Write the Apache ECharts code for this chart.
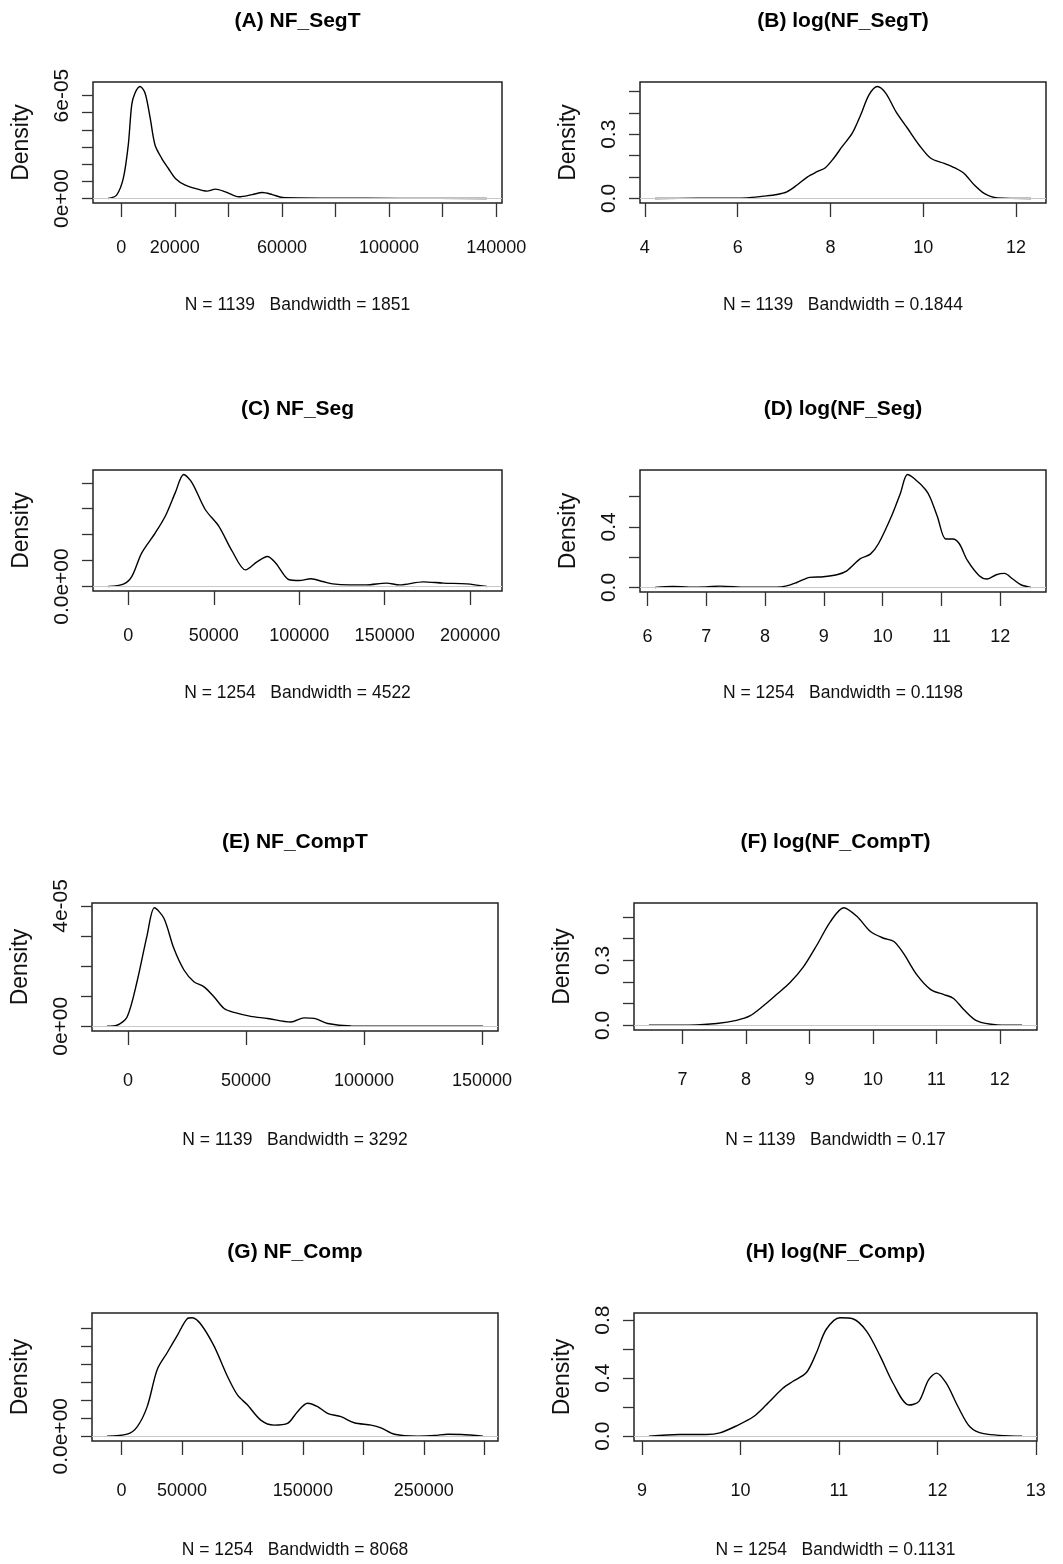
<!DOCTYPE html>
<html>
<head>
<meta charset="utf-8">
<script src="https://cdn.jsdelivr.net/npm/echarts@6/dist/echarts.min.js"></script>
<style>
  html, body { margin: 0; padding: 0; background: #fff; }
  #chart { width: 1063px; height: 1564px; }
</style>
</head>
<body>
<div id="chart"></div>
<script>
// density curves
// (A), (C), (E), (G): y in units of 1e-05
const xA = [-4900, -1750, 750, 2600, 3900, 5100, 7000, 8900, 10800, 12600, 15100, 17600, 20200, 23900, 28900, 32000, 35200, 38900, 43900, 48900, 52700, 56400, 60200, 78900, 103900, 136500];
const yA = [0, 0.2, 1.17, 3.1, 5.46, 6.14, 6.53, 6.14, 4.68, 3.12, 2.34, 1.75, 1.17, 0.78, 0.53, 0.43, 0.55, 0.39, 0.1, 0.23, 0.35, 0.23, 0.06, 0.02, 0.01, 0];

const xB = [4.22, 5.12, 6.2, 6.56, 6.85, 7.06, 7.28, 7.5, 7.71, 7.89, 8.07, 8.25, 8.47, 8.65, 8.83, 9.01, 9.19, 9.41, 9.66, 9.91, 10.16, 10.45, 10.67, 10.88, 11.1, 11.32, 11.6, 12.32];
const yB = [0, 0.001, 0.003, 0.011, 0.019, 0.031, 0.063, 0.1, 0.125, 0.144, 0.188, 0.242, 0.305, 0.39, 0.484, 0.523, 0.492, 0.406, 0.328, 0.25, 0.188, 0.164, 0.144, 0.117, 0.063, 0.023, 0.003, 0];

const xC = [-11800, -2900, 2000, 7800, 15700, 21600, 27500, 32400, 37300, 45100, 53000, 60800, 68600, 75500, 81400, 86300, 94100, 100000, 106900, 113700, 119600, 129400, 139200, 151000, 158800, 172500, 184300, 198000, 209800];
const yC = [0, 0.045, 0.19, 0.645, 1.03, 1.355, 1.81, 2.16, 2.0, 1.48, 1.16, 0.68, 0.32, 0.48, 0.58, 0.45, 0.13, 0.116, 0.15, 0.097, 0.05, 0.032, 0.032, 0.065, 0.032, 0.09, 0.065, 0.05, 0];

const xD = [6.13, 6.43, 6.71, 7.0, 7.23, 7.68, 8.19, 8.37, 8.54, 8.76, 8.99, 9.22, 9.39, 9.62, 9.79, 9.93, 10.16, 10.3, 10.42, 10.53, 10.73, 10.81, 10.93, 11.07, 11.19, 11.3, 11.44, 11.64, 11.78, 11.93, 12.07, 12.21, 12.35, 12.52];
const yD = [0, 0.007, 0.002, 0.004, 0.009, 0.002, 0.002, 0.011, 0.033, 0.067, 0.071, 0.084, 0.11, 0.19, 0.22, 0.29, 0.48, 0.62, 0.745, 0.72, 0.645, 0.59, 0.467, 0.32, 0.32, 0.29, 0.178, 0.078, 0.056, 0.084, 0.093, 0.056, 0.018, 0];

const xE = [-8900, -4700, -400, 3800, 8100, 11200, 15200, 19400, 23700, 27900, 32200, 36400, 40700, 44900, 52000, 59100, 69000, 74600, 78900, 84600, 94500, 115700, 150400];
const yE = [0, 0.033, 0.31, 1.48, 3.03, 3.94, 3.59, 2.59, 1.87, 1.48, 1.31, 0.98, 0.59, 0.46, 0.33, 0.26, 0.14, 0.28, 0.26, 0.09, 0.01, 0.005, 0];

const xF = [6.47, 7.22, 7.54, 7.85, 8.06, 8.27, 8.48, 8.69, 8.91, 9.12, 9.33, 9.54, 9.75, 9.96, 10.17, 10.33, 10.48, 10.69, 10.91, 11.12, 11.27, 11.43, 11.64, 11.96, 12.35];
const yF = [0, 0.002, 0.008, 0.023, 0.043, 0.089, 0.142, 0.196, 0.272, 0.372, 0.479, 0.543, 0.502, 0.433, 0.402, 0.387, 0.333, 0.234, 0.165, 0.142, 0.124, 0.073, 0.02, 0.002, 0];

const xG = [-11900, 4700, 13000, 21300, 29600, 37800, 46100, 54400, 58600, 65500, 76500, 87600, 95900, 104100, 115200, 126200, 137300, 145600, 153900, 162200, 170400, 181500, 192500, 206400, 214600, 225700, 245000, 258800, 269900, 280900, 298900];
const yG = [0, 0.023, 0.105, 0.33, 0.743, 0.93, 1.12, 1.31, 1.32, 1.25, 1.006, 0.668, 0.46, 0.35, 0.18, 0.124, 0.143, 0.274, 0.368, 0.33, 0.255, 0.218, 0.15, 0.124, 0.094, 0.023, 0.002, 0.008, 0.023, 0.019, 0];

const xH = [9.07, 9.38, 9.65, 9.79, 9.96, 10.13, 10.26, 10.43, 10.53, 10.67, 10.77, 10.87, 11.01, 11.14, 11.28, 11.42, 11.55, 11.71, 11.81, 11.91, 11.99, 12.09, 12.21, 12.33, 12.47, 12.86];
const yH = [0, 0.012, 0.012, 0.023, 0.072, 0.134, 0.215, 0.331, 0.377, 0.439, 0.573, 0.735, 0.816, 0.809, 0.724, 0.55, 0.365, 0.215, 0.238, 0.388, 0.435, 0.365, 0.203, 0.065, 0.018, 0];

const titles = ["(A) NF_SegT", "(B) log(NF_SegT)", "(C) NF_Seg", "(D) log(NF_Seg)",
                "(E) NF_CompT", "(F) log(NF_CompT)", "(G) NF_Comp", "(H) log(NF_Comp)"];
const subtitles = ["N = 1139   Bandwidth = 1851", "N = 1139   Bandwidth = 0.1844",
                   "N = 1254   Bandwidth = 4522", "N = 1254   Bandwidth = 0.1198",
                   "N = 1139   Bandwidth = 3292", "N = 1139   Bandwidth = 0.17",
                   "N = 1254   Bandwidth = 8068", "N = 1254   Bandwidth = 0.1131"];

// axis ticks, and the ticks that carry a label
const xTicks = [
  [0, 20000, 40000, 60000, 80000, 100000, 120000, 140000],
  [4, 6, 8, 10, 12],
  [0, 50000, 100000, 150000, 200000],
  [6, 7, 8, 9, 10, 11, 12],
  [0, 50000, 100000, 150000],
  [7, 8, 9, 10, 11, 12],
  [0, 50000, 100000, 150000, 200000, 250000, 300000],
  [9, 10, 11, 12, 13]
];
const xLabels = [
  [0, 20000, 60000, 100000, 140000],
  [4, 6, 8, 10, 12],
  [0, 50000, 100000, 150000, 200000],
  [6, 7, 8, 9, 10, 11, 12],
  [0, 50000, 100000, 150000],
  [7, 8, 9, 10, 11, 12],
  [0, 50000, 150000, 250000],
  [9, 10, 11, 12, 13]
];
const yTicks = [
  [0, 1, 2, 3, 4, 5, 6],
  [0, 0.1, 0.2, 0.3, 0.4, 0.5],
  [0, 0.5, 1, 1.5, 2],
  [0, 0.2, 0.4, 0.6],
  [0, 1, 2, 3, 4],
  [0, 0.1, 0.2, 0.3, 0.4, 0.5],
  [0, 0.2, 0.4, 0.6, 0.8, 1, 1.2],
  [0, 0.2, 0.4, 0.6, 0.8]
];
const yLabels = [
  {0: "0e+00", 6: "6e-05"},
  {0: "0.0", 0.3: "0.3"},
  {0: "0.0e+00"},
  {0: "0.0", 0.4: "0.4"},
  {0: "0e+00", 4: "4e-05"},
  {0: "0.0", 0.3: "0.3"},
  {0: "0.0e+00"},
  {0: "0.0", 0.4: "0.4", 0.8: "0.8"}
];

const xs = [xA, xB, xC, xD, xE, xF, xG, xH];
const ys = [yA, yB, yC, yD, yE, yF, yG, yH];

// plot boxes
const boxes = [
  {left: 93, top: 82, width: 409, height: 121},
  {left: 640, top: 82, width: 406, height: 121},
  {left: 93, top: 470, width: 409, height: 121},
  {left: 640, top: 470, width: 406, height: 122},
  {left: 92, top: 903, width: 406, height: 128},
  {left: 634, top: 903, width: 403, height: 127},
  {left: 92, top: 1313, width: 406, height: 128},
  {left: 634, top: 1313, width: 403, height: 128}
];
const titleY = [21, 21, 409, 409, 842, 842, 1252, 1252];
const subY = [305, 305, 693, 693, 1140, 1140, 1550, 1550];

const FONT = "'Liberation Sans', Arial, sans-serif";

const chart = echarts.init(document.getElementById("chart"));

const grid = [], xAxis = [], yAxis = [], series = [], graphic = [];

for (let i = 0; i < 8; i++) {
  const b = boxes[i];
  const x = xs[i], y = ys[i];
  const xlo = x[0], xhi = x[x.length - 1];
  const xpad = 0.04 * (xhi - xlo);
  const ymax = Math.max(...y);
  const bottomRow = i >= 4;

  grid.push({
    left: b.left, top: b.top, width: b.width, height: b.height,
    show: true, borderColor: "#222", borderWidth: 1.5, backgroundColor: "transparent"
  });

  xAxis.push({
    gridIndex: i, type: "value",
    min: xlo - xpad, max: xhi + xpad,
    axisLine: {show: false, onZero: false},
    axisTick: {show: true, length: 14, customValues: xTicks[i], lineStyle: {color: "#333", width: 1.3}},
    axisLabel: {
      customValues: xLabels[i], margin: bottomRow ? 41 : 36,
      fontFamily: FONT, fontSize: 18, color: "#111",
      formatter: v => String(v)
    },
    splitLine: {show: false}
  });

  const labs = yLabels[i];
  yAxis.push({
    gridIndex: i, type: "value",
    min: -0.04 * ymax, max: 1.04 * ymax,
    name: "Density", nameLocation: "middle", nameRotate: 90, nameGap: 60,
    nameTextStyle: {fontFamily: FONT, fontSize: 23, color: "#111"},
    axisLine: {show: false, onZero: false},
    axisTick: {show: true, length: 11, customValues: yTicks[i], lineStyle: {color: "#333", width: 1.3}},
    axisLabel: {
      customValues: Object.keys(labs).map(Number), rotate: 90, margin: 20,
      fontFamily: FONT, fontSize: 21, color: "#111",
      formatter: v => labs[v] !== undefined ? labs[v] : ""
    },
    splitLine: {show: false}
  });

  series.push({
    type: "line", xAxisIndex: i, yAxisIndex: i,
    data: x.map((v, j) => [v, y[j]]),
    showSymbol: false, smooth: 0.3,
    lineStyle: {color: "#000", width: 1.4},
    markLine: {
      silent: true, symbol: "none", label: {show: false},
      lineStyle: {color: "#c8c8c8", width: 1, type: "solid"},
      data: [{yAxis: 0}]
    }
  });

  const cx = b.left + b.width / 2;
  graphic.push({
    type: "text", x: cx, y: titleY[i],
    style: {text: titles[i], align: "center", verticalAlign: "middle",
            fontFamily: FONT, fontWeight: "bold", fontSize: 21, fill: "#000"}
  });
  graphic.push({
    type: "text", x: cx, y: subY[i],
    style: {text: subtitles[i], align: "center", verticalAlign: "middle",
            fontFamily: FONT, fontSize: 17.5, fill: "#111"}
  });
}

chart.setOption({
  animation: false,
  backgroundColor: "#fff",
  grid: grid,
  xAxis: xAxis,
  yAxis: yAxis,
  series: series,
  graphic: graphic
});
</script>
</body>
</html>
